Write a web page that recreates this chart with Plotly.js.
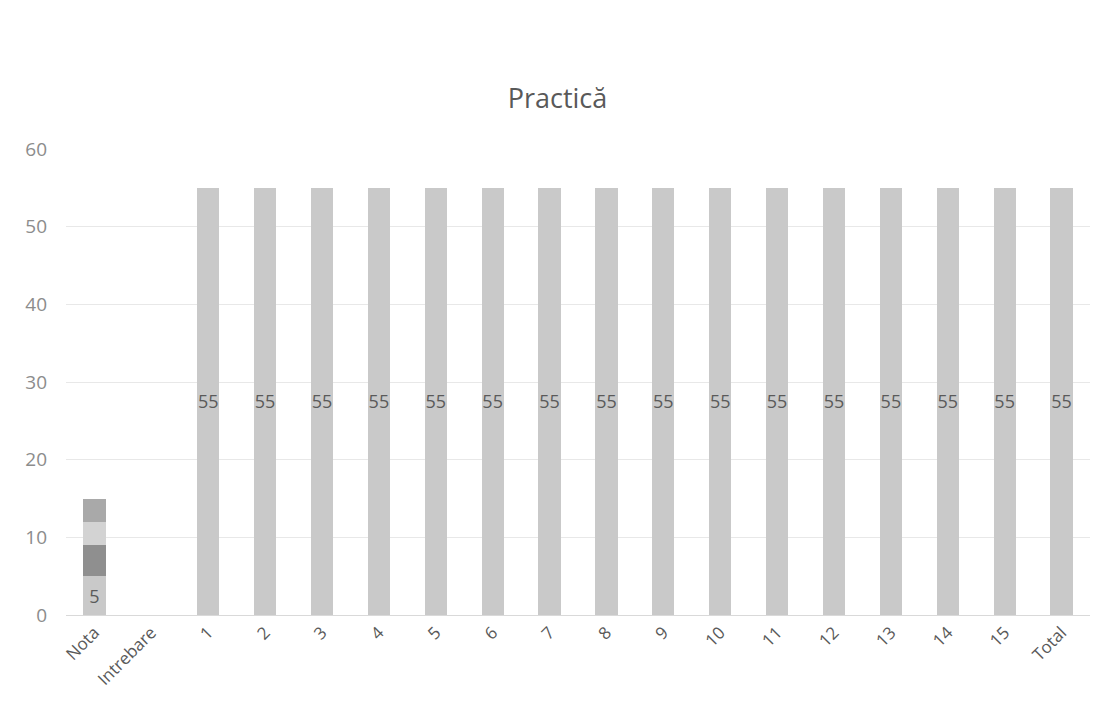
<!DOCTYPE html>
<html><head><meta charset="utf-8">
<script src="https://cdn.plot.ly/plotly-3.0.1.min.js"></script>
<style>html,body{margin:0;padding:0;background:#fff}#c{width:1115px;height:727px}</style>
</head><body><div id="c"></div>
<script>
const categories = ["Nota","Intrebare","1","2","3","4","5","6","7","8","9","10","11","12","13","14","15","Total"];
const series1 = [5,null,55,55,55,55,55,55,55,55,55,55,55,55,55,55,55,55];
const series2 = [4,null,null,null,null,null,null,null,null,null,null,null,null,null,null,null,null,null];
const series3 = [3,null,null,null,null,null,null,null,null,null,null,null,null,null,null,null,null,null];
const series4 = [3,null,null,null,null,null,null,null,null,null,null,null,null,null,null,null,null,null];
const yTicks = [0,10,20,30,40,50,60];

const font = "Open Sans, Liberation Sans, sans-serif";
function tr(vals, color, showText){
  return {
    type:'bar', x:categories, y:vals, marker:{color:color},
    width:0.39,
    text: showText ? vals.map(v=>v==null?'':String(v)) : undefined,
    textposition: showText ? 'inside' : 'none',
    insidetextanchor:'middle', textangle:0, constraintext:'none',
    textfont:{family:font,size:18,color:'#5a5a5a'},
    hoverinfo:'none'
  };
}
const data = [
  tr(series1,'#c9c9c9',true),
  tr(series2,'#8f8f8f',false),
  tr(series3,'#d3d3d3',false),
  tr(series4,'#a9a9a9',false)
];
const layout = {
  width:1115, height:727,
  margin:{l:66,r:25,t:149,b:112},
  paper_bgcolor:'#fff', plot_bgcolor:'#fff',
  barmode:'stack', showlegend:false,
  title:{text:'Practică', x:0.5, xanchor:'center', y:0.865, yanchor:'middle',
         font:{family:font,size:27,color:'#595959'}},
  xaxis:{type:'category', tickangle:-45, tickfont:{family:font,size:17,color:'#595959'},
         showgrid:false, showline:true, linecolor:'#d9d9d9', ticks:'', zeroline:false},
  yaxis:{range:[0,60], tickvals:yTicks, ticktext:yTicks.map(String),
         tickfont:{family:font,size:19,color:'#8c8c8c'},
         showgrid:true, gridcolor:'#e8e8e8', zeroline:false, showline:false, ticks:'',
         ticklabelstandoff:18}
};
Plotly.newPlot('c', data, layout, {staticPlot:true});
</script></body></html>
